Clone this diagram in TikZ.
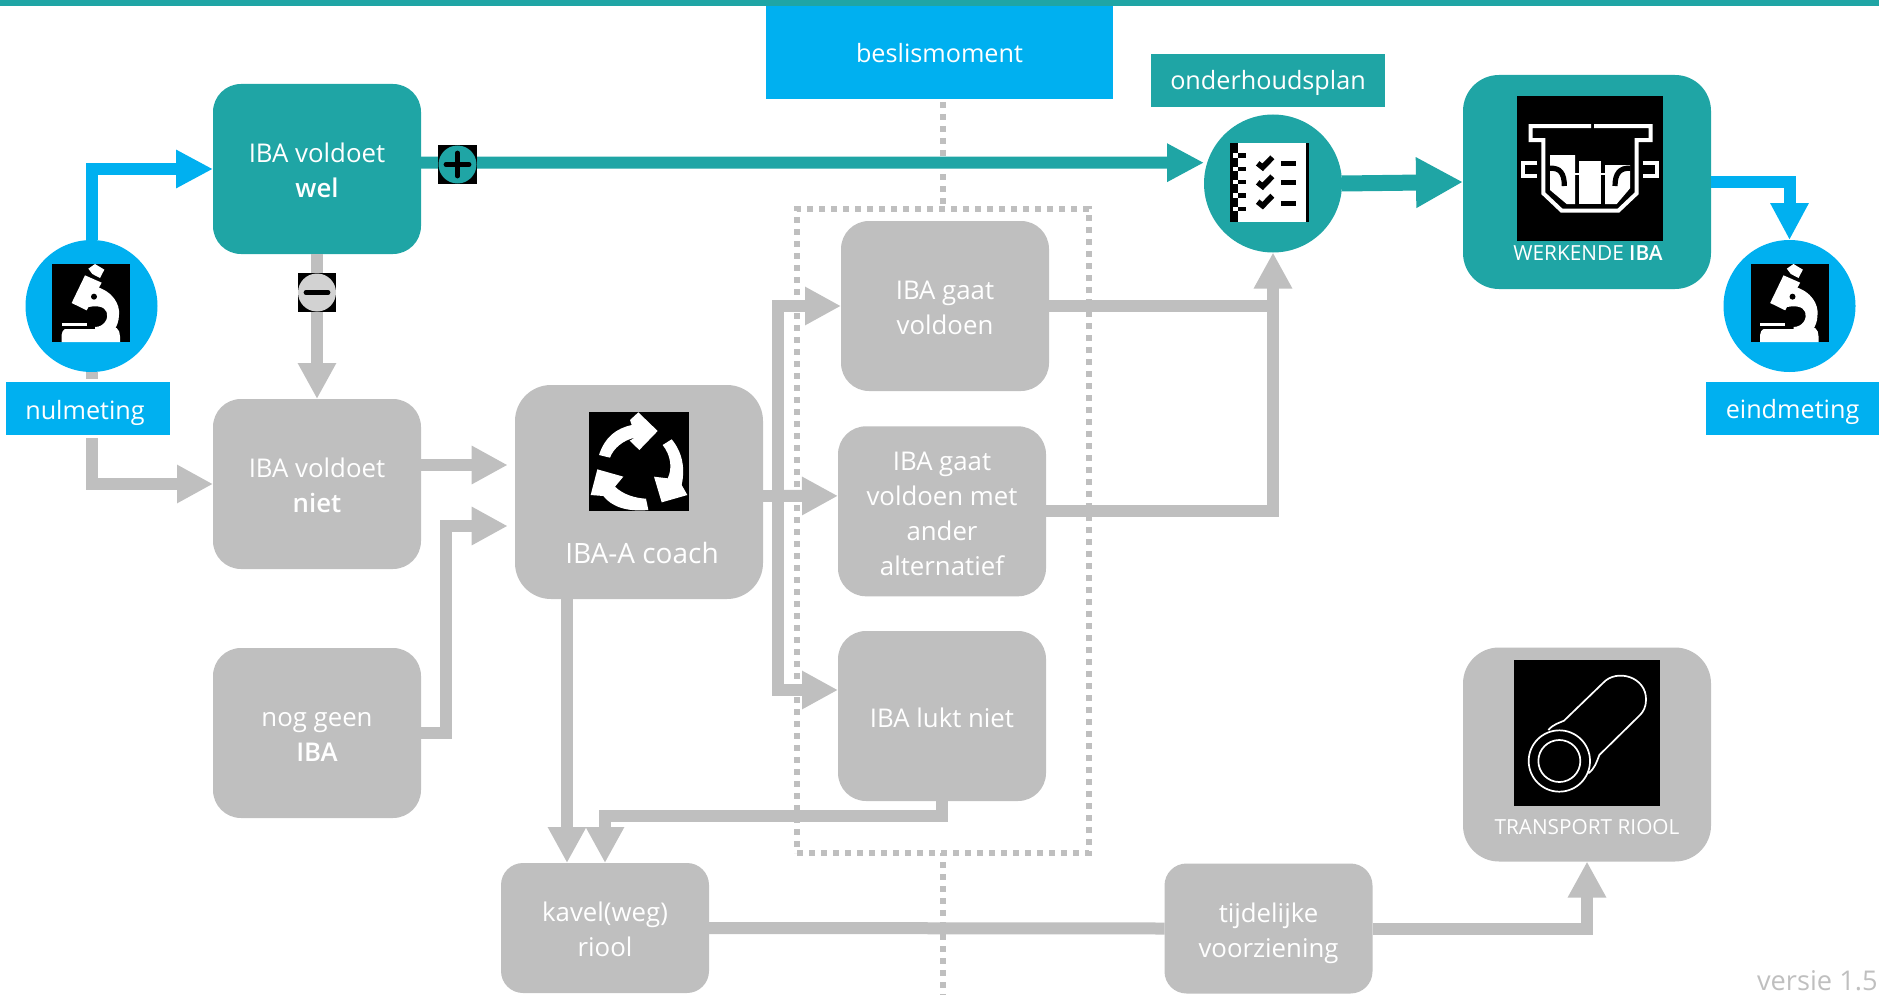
\documentclass[tikz,border=0pt]{standalone}
\usepackage{fontspec}
\setmainfont{Open Sans}[BoldFont={Open Sans Semibold}]
\usetikzlibrary{arrows.meta,calc}
\definecolor{tl}{HTML}{1FA5A5}
\definecolor{bl}{HTML}{00B0F0}
\definecolor{gr}{HTML}{BFBFBF}
\newcommand{\topln}{\rule{0pt}{15.4pt}}
\newcommand{\botln}{\rule[-4pt]{0pt}{4pt}}
\tikzset{
  box/.style={rounded corners=14pt,fill=gr,text=white,minimum width=104pt,minimum height=85pt,inner sep=0pt,outer sep=0pt,align=center,font=\fontsize{12.9}{17.5}\selectfont},
  bigbox/.style={box,rounded corners=18pt,minimum width=124pt,minimum height=107pt},
  lowbox/.style={box,rounded corners=11pt,minimum height=65pt},
  tag/.style={fill=bl,text=white,inner sep=0pt,outer sep=0pt,text depth=0pt,font=\fontsize{12.6}{17.5}\selectfont},
  txt/.style={text=white,inner sep=0pt,align=center,font=\fontsize{12.9}{17.5}\selectfont},
  smalltxt/.style={text=white,inner sep=0pt,font=\fontsize{10.4}{12}\selectfont},
  disc/.style={circle,inner sep=0pt,outer sep=0pt,minimum size=66pt},
  grayconn/.style={draw=gr,line width=6pt},
  grayarr/.style={grayconn,-{Triangle[length=18pt,width=18pt]}},
  tealarr/.style={draw=tl,line width=6pt,-{Triangle[length=18.5pt,width=18pt]}},
  bluearr/.style={draw=bl,line width=6pt,-{Triangle[length=18.5pt,width=18pt]}},
  thickarr/.style={draw=tl,line width=8pt,-{Triangle[length=23.5pt,width=23.7pt]}},
  dots/.style={draw=gr,line width=3pt,dash pattern=on 3pt off 3pt},
  iconscale/.style={x=0.16667pt,y=-0.16667pt},
}
\newcommand{\microscopeicon}[2]{%
\begin{scope}[shift={(#1,#2)},iconscale]
 \fill[black] (0,0) rectangle (234,234);
 \begin{scope}[shift={(-21,-18)}]
 \fill[white] (130,32) -- (150,18) -- (178,35) -- (165,60) -- (142,48) -- cycle;
 \fill[white] (120,52) -- (170,74) -- (125,157) -- (80,135) -- cycle;
 \fill[white] (150,85) .. controls (205,100) and (225,140) .. (222,170) .. controls (222,190) and (215,205) .. (208,216) -- (150,216) -- (150,207) .. controls (178,207) and (192,180) .. (185,162) .. controls (178,145) and (155,140) .. (118,150) -- cycle;
 \fill[black] (147,116) circle[radius=9];
 \fill[white] (50,195) rectangle (125,205);
 \fill[white] (60,213) -- (150,213) -- (215,210) .. controls (222,215) and (225,225) .. (225,235) -- (225,252) -- (50,252) -- (50,230) .. controls (50,222) and (55,215) .. (60,213) -- cycle;
 \end{scope}
\end{scope}}
\begin{document}
\begin{tikzpicture}[x=0.5pt,y=-0.5pt]
\useasboundingbox (0,0) rectangle (1879,995);
\fill[tl] (0,0) rectangle (1879,6);

% nodes that carry connectors
\node[tag,text height=10.5pt,minimum width=173.5pt,minimum height=46.5pt] (beslis) at (939.5,52.5) {beslismoment};
\node[draw=gr,line width=3pt,dash pattern=on 3pt off 3pt,minimum width=146pt,minimum height=322pt,inner sep=0pt,outer sep=0pt] (frame) at (943,531) {};
\coordinate (dotend) at (943,995);
\draw[dots,dash phase=4.5pt] (beslis.south -| frame.north) -- (frame.north);
\draw[dots,dash phase=1.5pt] (frame.south) -- (dotend);

\node[disc,fill=bl] (nul) at (91.5,306) {};
\node[disc,fill=bl] (eind) at (1789.5,306) {};
\node[disc,fill=tl,minimum size=69pt] (ond) at (1273,183.5) {};
\node[box,fill=tl] (wel) at (317,169) {\topln IBA voldoet\\\textbf{wel}\botln};
\node[box] (niet) at (317,484) {\topln IBA voldoet\\\textbf{niet}\botln};
\node[box] (ngeen) at (317,733) {\topln nog geen\\\textbf{IBA}\botln};
\node[bigbox] (coach) at (639,492) {};
\node[box] (g1) at (945,306) {\topln IBA gaat\\voldoen\botln};
\node[box] (g2) at (942,511.3) {\topln IBA gaat\\voldoen met\\ander\\alternatief\botln};
\node[box] (g3) at (942,716) {};
\node[lowbox] (kavel) at (605,928) {\topln kavel(weg)\\riool\botln};
\node[lowbox] (tijd) at (1268.5,928.5) {\topln tijdelijke\\voorziening\botln};
\node[bigbox,fill=tl] (werk) at (1587,182) {};
\node[bigbox] (trans) at (1587,754.5) {};

% connectors
\draw[grayarr] (nul.south) |- (niet.west);
\node[tag,text height=10.5pt,draw=white,line width=1.5pt,minimum width=83.5pt,minimum height=28pt] (nullab) at (88,408.5) {nulmeting\hspace*{3pt}};
\node[tag,text height=9.8pt,minimum width=86.5pt,minimum height=26.5pt] (eindlab) at (1792.5,408.5) {eindmeting};
\node[tag,text height=8.8pt,fill=tl,minimum width=117pt,minimum height=26.5pt] (ondlab) at (1268,80.5) {onderhoudsplan};
\draw[bluearr] (nul.north) |- (wel.west);
\draw[grayarr] (wel.south) -- (niet.north);
\draw[tealarr] ([yshift=3.2pt]wel.east) -- ([yshift=10.4pt]ond.west);
\draw[thickarr] (ond.east) -- (werk.west);
\draw[bluearr] (werk.east) -| (eind.north);
\draw[grayarr] ([yshift=9.5pt]niet.east) -- ([xshift=-3.65pt,yshift=13.5pt]coach.west);
\draw[grayarr] (ngeen.east) -- ++(25.3,0) |- ([xshift=-3.65pt,yshift=-17pt]coach.west);
\coordinate (bus) at (778,496);
\draw[grayconn] ([yshift=-2pt]coach.east) -- (bus);
\draw[grayarr] (bus) -- ([yshift=7.7pt]g2.west);
\draw[grayarr] (bus) |- (g1.west);
\draw[grayarr] (bus) |- ([yshift=13pt]g3.west);
\draw[grayconn] (g1.east) -- (g1.east -| ond.south);
\draw[grayarr] (g2.east) -| (ond.south);
\draw[grayarr] ([xshift=-19pt]coach.south -| kavel.north) -- ([xshift=-19pt]kavel.north);
\draw[grayarr] (g3.south) -- ++(0,15) -| (kavel.north);
\draw[grayconn] (kavel.east) -- (tijd.west);
\draw[grayarr] (tijd.east) -| (trans.south);

% plus and minus
\fill[black] (438,145) rectangle (477,184);
\fill[tl] (457.5,164.5) circle[radius=19];
\draw[black,line width=2.4pt,line cap=round] (446,164.5) -- (469,164.5) (457.5,153) -- (457.5,176);
\fill[black] (298,273) rectangle (336,312);
\fill[gr!70!white] (317,292.5) circle[radius=19];
\draw[black,line width=2.4pt,line cap=round] (306,292.5) -- (328,292.5);

% texts beside icons
\node[txt,font=\fontsize{14}{17.5}\selectfont] (coachtxt) at (642,553) {IBA-A coach};
\node[txt] (g3txt) at (942,718) {IBA lukt niet};
\node[smalltxt] (werktxt) at (1588,253) {WERKENDE \textbf{IBA}};
\node[smalltxt] (transtxt) at (1587,827) {TRANSPORT RIOOL};
\node[text=gr,anchor=east,inner sep=0pt,font=\fontsize{13.6}{15}\selectfont] (versie) at (1878,981) {versie 1.5};

% microscopes
\microscopeicon{52}{264}
\microscopeicon{1750.5}{264}

% checklist
\begin{scope}[shift={(1225,135)},iconscale]
 \fill[white] (15,25) rectangle (253,262);
 \fill[black] (15,25) rectangle (38,262);
 \fill[black] (243,25) rectangle (253,262);
 \foreach \yy in {55,95,135,175,215}{
  \fill[white] (24,\yy) rectangle (38,\yy+13);
  \fill[black] (38,\yy) rectangle (62,\yy+13);
 }
 \foreach \yy in {0,57,115}{
  \draw[black,line width=2.8pt] (98,85+\yy) -- (113,97+\yy) -- (142,67+\yy);
 }
 \fill[black] (167,77) rectangle (212,92);
 \fill[black] (167,135) rectangle (212,149);
 \fill[black] (167,197) rectangle (212,212);
\end{scope}

% cycle arrows
\begin{scope}[shift={(480,370)},iconscale]
 \fill[black] (327,126) rectangle (627,422);
 \fill[white] (357,255) .. controls (375,200) and (410,175) .. (455,165) -- (450,150) -- (475,127) -- (533,183) -- (478,240) -- (449,212) -- (465,203) .. controls (430,210) and (400,235) .. (390,263) -- cycle;
 \fill[white] (575,208) .. controls (610,250) and (615,300) .. (605,345) -- (622,375) -- (545,397) -- (522,320) -- (563,325) .. controls (578,295) and (572,255) .. (548,225) -- cycle;
 \fill[white] (505,420) .. controls (440,426) and (395,410) .. (370,378) -- (332,375) -- (352,298) -- (430,320) -- (405,350) .. controls (430,375) and (470,385) .. (498,386) -- cycle;
\end{scope}

% IBA tank
\begin{scope}[shift={(1510,90)},iconscale]
 \fill[black] (21,18) rectangle (459,452);
 \fill[white] (120,195) -- (195,195) -- (195,342) -- (170,342) -- (120,300) -- cycle;
 \fill[white] (207,212) rectangle (272,342);
 \fill[white] (285,225) -- (360,225) -- (360,295) -- (320,342) -- (285,342) -- cycle;
 \draw[white,line width=1pt] (195,252) -- (285,252);
 \draw[black,line width=2.6pt] (118,235) .. controls (150,232) and (163,250) .. (163,288);
 \draw[black,line width=2.6pt] (362,235) .. controls (330,232) and (315,250) .. (315,288);
 \draw[white,line width=2pt] (243,108) -- (62,108) -- (62,150) -- (100,150) -- (100,310) -- (155,362) -- (325,362) -- (380,310) -- (380,150) -- (422,150) -- (422,108) -- (252,108);
 \draw[white,line width=2pt] (82,218) -- (40,218) -- (40,258) -- (82,258);
 \draw[white,line width=2pt] (398,218) -- (440,218) -- (440,258) -- (398,258);
\end{scope}

% pipe
\begin{scope}[shift={(1420,630)},iconscale]
 \fill[black] (282,90) rectangle (720,528);
 \draw[white,line width=0.85pt] (418,393) circle[radius=92];
 \draw[white,line width=0.85pt] (418,393) circle[radius=63];
 \draw[white,line width=0.85pt] (385,300) .. controls (400,282) and (420,278) .. (432,272) -- (550,158) .. controls (590,115) and (680,140) .. (678,210) .. controls (678,230) and (670,245) .. (660,255) -- (538,375) .. controls (530,395) and (525,415) .. (505,430);
\end{scope}
\end{tikzpicture}
\end{document}
